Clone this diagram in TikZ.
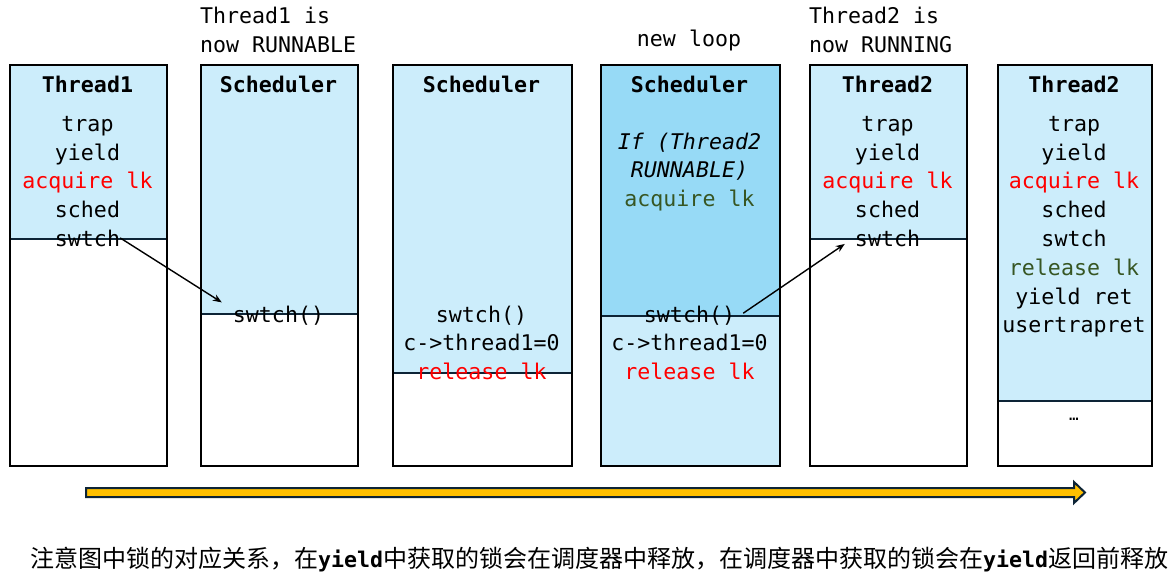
\documentclass[tikz,border=0pt]{standalone}
\usepackage{fontspec}
\setmonofont{DejaVu Sans Mono}
\newfontfamily\cjk{Noto Sans CJK SC}
\usetikzlibrary{arrows.meta,calc}
\definecolor{lblue}{RGB}{204,237,251}
\definecolor{dblue}{RGB}{151,218,246}
\definecolor{navy}{RGB}{13,36,54}
\definecolor{dgreen}{RGB}{55,86,35}
\definecolor{gold}{RGB}{255,192,0}
\tikzset{
  txt/.style={anchor=base,inner sep=0pt,font=\fontsize{21.6}{26}\selectfont\ttfamily},
  ttl/.style={txt,font=\fontsize{21.6}{26}\selectfont\ttfamily\bfseries},
  itx/.style={txt,font=\fontsize{21.6}{26}\selectfont\ttfamily\itshape},
  lbl/.style={txt,anchor=base west},
  frame/.style={draw=black,line width=2pt,fill=none,inner sep=0pt,minimum width=#1,minimum height=401pt,anchor=north west},
  divider/.style={draw=navy,line width=2pt},
  link/.style={draw=black,line width=1.4pt,-{Stealth[length=9pt,width=7pt]}},
}
\begin{document}
\begin{tikzpicture}[x=1pt,y=-1pt]
\useasboundingbox (0,0) rectangle (1168,576);
% fills
\fill[lblue] (9,64) rectangle (166,239);
\fill[lblue] (200,64) rectangle (357,314);
\fill[lblue] (392,64) rectangle (571,373);
\fill[dblue] (600,64) rectangle (779,316);
\fill[lblue] (600,316) rectangle (779,465);
\fill[lblue] (809,64) rectangle (966,239);
\fill[lblue] (997,64) rectangle (1151,401);
% dividers
\draw[divider] (9,239) -- (166,239);
\draw[divider] (200,314) -- (357,314);
\draw[divider] (392,373) -- (571,373);
\draw[divider] (600,316) -- (779,316);
\draw[divider] (809,239) -- (966,239);
\draw[divider] (997,401) -- (1151,401);
% frames
\node[frame=157pt] (b1) at (9,64) {};
\node[frame=157pt] (b2) at (200,64) {};
\node[frame=179pt] (b3) at (392,64) {};
\node[frame=179pt] (b4) at (600,64) {};
\node[frame=157pt] (b5) at (809,64) {};
\node[frame=154pt] (b6) at (997,64) {};
% top labels
\node[lbl] (l1a) at (200,23) {Thread1 is};
\node[lbl] (l1b) at (200,52) {now RUNNABLE};
\node[txt] (l4) at (689,46) {new loop};
\node[lbl] (l5a) at (809,23) {Thread2 is};
\node[lbl] (l5b) at (809,52) {now RUNNING};
% box 1
\node[ttl] (t1) at (87.5,92) {Thread1};
\node[txt] (a1) at (87.5,131) {trap};
\node[txt] (a2) at (87.5,160) {yield};
\node[txt,text=red] (a3) at (87.5,188) {acquire lk};
\node[txt] (a4) at (87.5,217) {sched};
\node[txt] (a5) at (87.5,246) {swtch};
% box 2
\node[ttl] (t2) at (278.5,92) {Scheduler};
\node[txt] (c1) at (278.5,322) {swtch()};
% box 3
\node[ttl] (t3) at (481.5,92) {Scheduler};
\node[txt] (d1) at (481.5,322) {swtch()};
\node[txt] (d2) at (481.5,350) {c->thread1=0};
\node[txt,text=red] (d3) at (481.5,379) {release lk};
% box 4
\node[ttl] (t4) at (689.5,92) {Scheduler};
\node[itx] (e1) at (689.5,149) {If (Thread2};
\node[itx] (e2) at (689.5,177) {RUNNABLE)};
\node[txt,text=dgreen] (e3) at (689.5,206) {acquire lk};
\node[txt] (e4) at (689.5,322) {swtch()};
\node[txt] (e5) at (689.5,350) {c->thread1=0};
\node[txt,text=red] (e6) at (689.5,379) {release lk};
% box 5
\node[ttl] (t5) at (887.5,92) {Thread2};
\node[txt] (f1) at (887.5,131) {trap};
\node[txt] (f2) at (887.5,160) {yield};
\node[txt,text=red] (f3) at (887.5,188) {acquire lk};
\node[txt] (f4) at (887.5,217) {sched};
\node[txt] (f5) at (887.5,246) {swtch};
% box 6
\node[ttl] (t6) at (1074,92) {Thread2};
\node[txt] (g1) at (1074,131) {trap};
\node[txt] (g2) at (1074,160) {yield};
\node[txt,text=red] (g3) at (1074,188) {acquire lk};
\node[txt] (g4) at (1074,217) {sched};
\node[txt] (g5) at (1074,246) {swtch};
\node[txt,text=dgreen] (g6) at (1074,275) {release lk};
\node[txt] (g7) at (1074,304) {yield ret};
\node[txt] (g8) at (1074,332) {usertrapret};
\node[txt,font=\fontsize{16}{18}\selectfont\ttfamily] (g9) at (1074,420) {…};
% connectors
\draw[link] (a5.east) -- ($(c1.north west)+(-11,-3)$);
\draw[link] ($(e4.east)+(8,-2)$) -- ($(f5.west)+(-10,6)$);
% timeline arrow
\draw[draw=navy,fill=gold,line width=2pt,line join=miter]
  (86,488) -- (1074,488) -- (1074,482) -- (1085,492.5) -- (1074,503) -- (1074,497) -- (86,497) -- cycle;
% note
\node[anchor=base west,inner sep=0pt,font=\fontsize{24}{28}\selectfont\cjk] (note) at (30,567)
  {注意图中锁的对应关系，在{\fontsize{21.6}{26}\selectfont\ttfamily\bfseries yield}中获取的锁会在调度器中释放，在调度器中获取的锁会在{\fontsize{21.6}{26}\selectfont\ttfamily\bfseries yield}返回前释放};
\end{tikzpicture}
\end{document}
